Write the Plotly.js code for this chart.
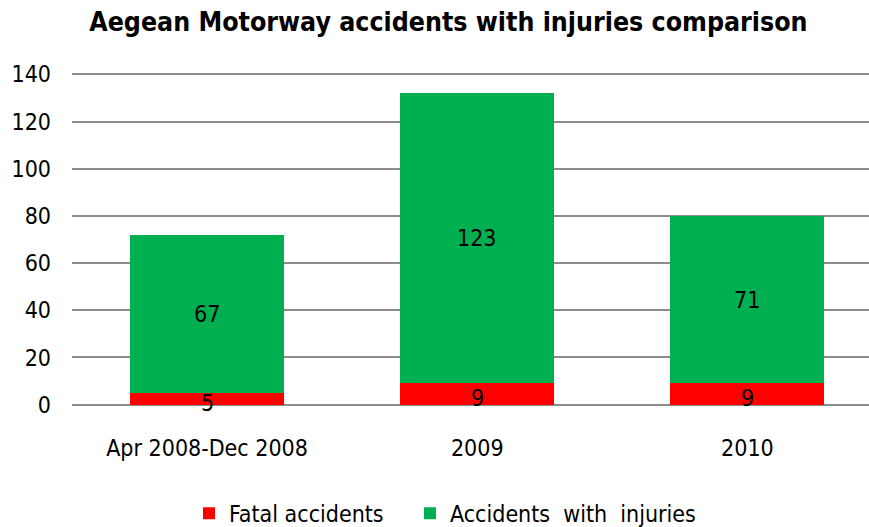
<!DOCTYPE html>
<html><head><meta charset="utf-8">
<script src="https://cdn.plot.ly/plotly-3.0.1.min.js"></script>
<style>html,body{margin:0;padding:0;background:#fff}#c{width:869px;height:527px}</style>
</head><body><div id="c"></div>
<script>
const categories = ["Apr 2008-Dec 2008", "2009", "2010"];
const fatal = [5, 9, 9];
const injuries = [67, 123, 71];
const yTicks = [0, 20, 40, 60, 80, 100, 120, 140];

const FONT = "DejaVu Sans Condensed, DejaVu Sans, sans-serif";

const traces = [
  {type:'bar', name:'Fatal accidents', legend:'legend', x:categories, y:fatal, marker:{color:'#FF0000', line:{width:0}}, width:0.57, hoverinfo:'none'},
  {type:'bar', name:'Accidents  with  injuries', legend:'legend2', x:categories, y:injuries, marker:{color:'#00B050', line:{width:0}}, width:0.57, hoverinfo:'none'}
];

const annotations = [];
categories.forEach((c,i)=>{
  annotations.push({x:i, y:fatal[i]/2, text:String(fatal[i]), showarrow:false, font:{family:FONT,size:23,color:'#000'}, yanchor:'middle', yshift:-4});
  annotations.push({x:i, y:fatal[i]+injuries[i]/2, text:String(injuries[i]), showarrow:false, font:{family:FONT,size:23,color:'#000'}, yanchor:'middle'});
});

const legendBase = {orientation:'h', xref:'container', yref:'container', xanchor:'left', yanchor:'middle', y:0.026, font:{family:FONT,size:23,color:'#000'}, itemwidth:30, itemclick:false, bgcolor:'rgba(0,0,0,0)'};

const layout = {
  width:869, height:527,
  margin:{l:72, r:0, t:72, b:120},
  paper_bgcolor:'#fff', plot_bgcolor:'#fff',
  barmode:'stack',
  title:{text:'<b>Aegean Motorway accidents with injuries comparison</b>', x:0.516, xanchor:'center', y:0.958, yanchor:'middle', font:{family:FONT, size:26.5, color:'#000'}},
  xaxis:{type:'category', range:[-0.5,2.45], showgrid:false, zeroline:false, showline:false, ticks:'', tickfont:{family:FONT,size:23,color:'#000'}, ticklabelstandoff:25, fixedrange:true},
  yaxis:{range:[-1,141], tickvals:yTicks, ticktext:yTicks.map(String), showgrid:true, gridcolor:'#8C8C8C', gridwidth:2, zeroline:false, showline:false, ticks:'', tickfont:{family:FONT,size:23,color:'#000'}, ticklabelstandoff:20, fixedrange:true},
  showlegend:true,
  legend:Object.assign({}, legendBase, {x:189/869}),
  legend2:Object.assign({}, legendBase, {x:410/869}),
  annotations:annotations
};
Plotly.newPlot('c', traces, layout, {displayModeBar:false, staticPlot:true});
</script></body></html>
